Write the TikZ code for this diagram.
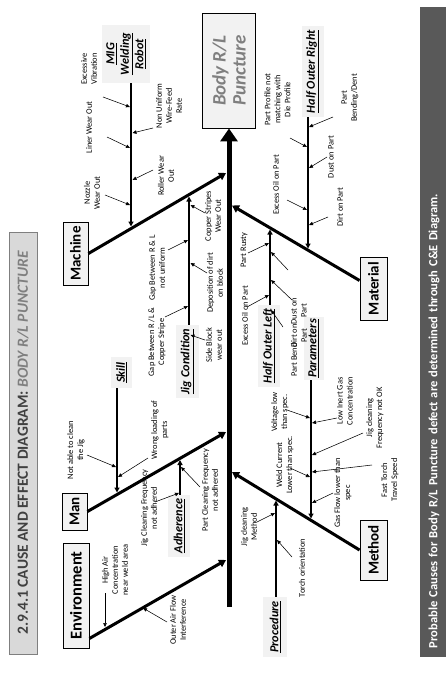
\documentclass[tikz,border=0pt]{standalone}
\usepackage{fontspec}
\setmainfont{Carlito}
\usetikzlibrary{arrows.meta, calc}
\definecolor{boxGrey}{HTML}{F2F2F2}
\definecolor{barGrey}{HTML}{D9D9D9}
\definecolor{capGrey}{HTML}{595959}
\definecolor{txtGrey}{HTML}{7F7F7F}
\definecolor{headGrey}{HTML}{404040}

\begin{document}
\begin{tikzpicture}[x=1pt, y=-1pt,
  cat/.style={draw, fill=boxGrey, line width=0.9pt, rotate=90, inner sep=1pt,
              font=\fontsize{15}{17}\selectfont\bfseries},
  sub/.style={fill=boxGrey, rotate=90, align=center, inner sep=2pt,
              font=\fontsize{12.3}{14.5}\selectfont\bfseries\itshape},
  cause/.style={rotate=90, align=center, inner sep=1pt,
                font=\fontsize{8.4}{10}\selectfont},
  spine/.style={line width=5pt, -{Triangle[length=13pt,width=17pt]}},
  bone/.style={line width=3pt, -{Triangle[length=7pt,width=8pt]}},
  rib/.style={line width=1.6pt, -{Triangle[length=5pt,width=5pt]}},
  hit/.style={line width=0.55pt, -{Triangle[length=4pt,width=3.5pt]}}]
  \useasboundingbox (0,0) rectangle (446,698);

  % title and caption bars
  \node[rotate=90, fill=barGrey, draw=txtGrey, minimum width=422pt,
        minimum height=28pt, inner sep=0pt, text=headGrey,
        font=\fontsize{15.5}{17}\selectfont\bfseries] (title) at (23,443)
        {2.9.4.1 CAUSE AND EFFECT DIAGRAM: {\itshape\color{txtGrey}BODY R/L PUNCTURE}};
  \node[rotate=90, fill=capGrey, minimum height=28pt, text width=632pt,
        inner sep=9pt, align=left, text=white,
        font=\fontsize{12.5}{14}\selectfont\bfseries] (caption) at (434,332)
        {Probable Causes for Body R/L Puncture defect are determined through C\&E Diagram.};

  % effect and spine
  \node[draw, fill=boxGrey, line width=0.9pt, rotate=90, minimum width=115pt,
        minimum height=53pt, align=center, text=txtGrey,
        font=\fontsize{19}{20}\selectfont\bfseries\itshape] (effect) at (229,70.5)
        {Body R/L\\Puncture};
  \coordinate (tail) at (229,607);
  \draw[spine] (tail) -- (effect.west);

  % categories
  \node[cat, minimum width=63pt, minimum height=25pt] (machine) at (75.5,253.5) {Machine};
  \node[cat, minimum width=37pt, minimum height=25pt] (man) at (74.5,511.5) {Man};
  \node[cat, minimum width=105pt, minimum height=26pt,
        font=\fontsize{16.5}{18}\selectfont\bfseries] (env) at (76,595.5) {Environment};
  \node[cat, minimum width=60pt, minimum height=27pt] (method) at (373.5,550) {Method};
  \node[cat, minimum width=63pt, minimum height=27pt] (material) at (373.5,288.5) {Material};

  \coordinate (machH) at (226,173);
  \coordinate (manH) at (226,432);
  \coordinate (envH) at (226,560);
  \coordinate (methH) at (232,472);
  \coordinate (matH) at (232,205.5);
  \draw[bone] (machine.south) -- (machH);
  \draw[bone] (man.south) -- (manH);
  \draw[bone] ([yshift=10pt]env.south west) -- (envH);
  \draw[bone] (method.north) -- (methH);
  \draw[bone] ([yshift=8pt]material.north) -- (matH);

  % sub causes
  \node[sub, minimum width=58pt, minimum height=48pt] (mig) at (126,54)
    {\underline{MIG}\\\underline{Welding}\\\underline{Robot}};
  \node[sub, minimum width=73pt, minimum height=23pt] (jig) at (187,361.5) {\underline{Jig Condition}};
  \node[sub, minimum width=31pt, minimum height=21pt] (skill) at (121.5,372.5) {\underline{Skill}};
  \node[sub, minimum width=62pt, minimum height=22pt] (adh) at (179,526) {\underline{Adherence}};
  \node[sub, minimum width=57pt, minimum height=20pt] (par) at (313.5,348.5) {\underline{Parameters}};
  \node[sub, minimum width=60pt, minimum height=24pt] (proc) at (275,627) {\underline{Procedure}};
  \node[sub, minimum width=82pt, minimum height=22pt] (hol) at (269,346) {\underline{Half Outer Left}};
  \node[sub, minimum width=91pt, minimum height=22pt] (hor) at (312.5,71.5) {\underline{Half Outer Right}};

  \coordinate (migH) at (131,226.5);
  \coordinate (jigH) at (189,196.5);
  \coordinate (skillH) at (117,492.5);
  \coordinate (adhH) at (180,460);
  \coordinate (parH) at (311,518.5);
  \coordinate (procH) at (276,500.5);
  \coordinate (holH) at (270,229.5);
  \coordinate (horH) at (308,248.5);
  \draw[rib] (mig.west -| migH) -- (migH);
  \draw[rib] (jig.east -| jigH) -- (jigH);
  \draw[rib] (skill.west -| skillH) -- (skillH);
  \draw[rib] (adh.east -| adhH) -- (adhH);
  \draw[rib] (par.west -| parH) -- (parH);
  \draw[rib] (proc.east -| procH) -- (procH);
  \draw[rib] (hol.east -| holH) -- (holH);
  \draw[rib] (hor.west -| horH) -- (horH);

  % machine
  \node[cause] (nozzle) at (92,193) {Nozzle\\Wear Out};
  \node[cause] (liner) at (89,127.5) {Liner Wear Out};
  \node[cause] (vibr) at (89,69) {Excessive\\Vibration};
  \node[cause] (roller) at (166,176) {Roller Wear\\Out};
  \node[cause] (feed) at (169,106) {Non Uniform\\Wire-Feed\\Rate};
  \coordinate (nzH) at (130,205);
  \coordinate (lnH) at (130,148);
  \coordinate (vbH) at (130,107);
  \coordinate (rlH) at (132.5,180);
  \coordinate (fdH) at (132.5,133);
  \draw[hit] ([shift={(13,2)}]nozzle.center) -- (nzH);
  \draw[hit] ([shift={(18,9.5)}]liner.center) -- (lnH);
  \draw[hit] ([shift={(14,28)}]vibr.center) -- (vbH);
  \draw[hit] ([shift={(-13,-6)}]roller.center) -- (rlH);
  \draw[hit] ([shift={(-16,22)}]feed.center) -- (fdH);

  \node[cause] (gapcs) at (157,342) {Gap Between R /L \&\\Copper Stripe};
  \node[cause] (gapnu) at (157,268) {Gap Between R \& L\\not uniform};
  \node[cause] (sideb) at (214,345) {Side Block\\wear out};
  \node[cause] (depo) at (215,283) {Deposition of dirt\\on block};
  \node[cause] (copper) at (213,216) {Copper Stripes\\Wear Out};
  \coordinate (gcH) at (188,306);
  \coordinate (gnH) at (188,240);
  \coordinate (sbH) at (190.5,335);
  \coordinate (dpH) at (190.5,263);
  \coordinate (cpH) at (190.5,205);
  \draw[hit] ([shift={(8,-25)}]gapcs.center) -- (gcH);
  \draw[hit] ([shift={(11,-18)}]gapnu.center) -- (gnH);
  \draw[hit] ([shift={(-9,-5)}]sideb.center) -- (sbH);
  \draw[hit] ([shift={(-8,-10)}]depo.center) -- (dpH);
  \draw[hit] ([shift={(-8,-3)}]copper.center) -- (cpH);

  % man
  \node[cause] (notable) at (76,450) {Not able to clean\\the Jig};
  \node[cause] (wrong) at (160,430) {Wrong loading of\\parts};
  \coordinate (naH) at (116,467);
  \coordinate (wrH) at (118,477);
  \draw[hit] ([shift={(11,5)}]notable.center) -- (naH);
  \draw[hit] ([shift={(-12,28)}]wrong.center) -- (wrH);

  \node[cause] (jigfreq) at (149,508) {Jig Cleaning Frequency\\not adhered};
  \node[cause] (partfreq) at (210,490) {Part Cleaning Frequency\\not adhered};
  \coordinate (jfH) at (179,493);
  \coordinate (pfH) at (181,467);
  \draw[hit] ([shift={(6,-6)}]jigfreq.center) -- (jfH);
  \draw[hit] ([shift={(-10,-3)}]partfreq.center) -- (pfH);

  % environment
  \node[cause] (highair) at (115,570) {High Air\\Concentration\\near weld area};
  \node[cause] (outer) at (178,620) {Outer Air Flow\\Interference};
  \coordinate (haH) at (105,627);
  \coordinate (ofH) at (143,608);
  \draw[hit] ([shift={(-10,23)}]highair.center) -- (haH);
  \draw[hit] ([shift={(-11,2)}]outer.center) -- (ofH);

  % method
  \node[cause] (volt) at (280,412) {Voltage low\\than spec.};
  \node[cause] (weld) at (285,465) {Weld Current\\Lower than spec.};
  \node[cause] (inert) at (345,401) {Low Inert Gas\\Concentration};
  \node[cause] (jigok) at (375,418) {Jig cleaning\\Frequency not OK};
  \node[cause] (torch) at (390,480) {Fast Torch\\Travel Speed};
  \node[cause] (gasflow) at (343,493) {Gas Flow lower than\\spec};
  \coordinate (vlH) at (310,418);
  \coordinate (wcH) at (310,477);
  \coordinate (igH) at (312,423);
  \coordinate (okH) at (312,455);
  \coordinate (tsH) at (312,472);
  \coordinate (gfH) at (312,503);
  \draw[hit] ([shift={(7,-2)}]volt.center) -- (vlH);
  \draw[hit] ([shift={(5,3)}]weld.center) -- (wcH);
  \draw[hit] ([shift={(-8,17)}]inert.center) -- (igH);
  \draw[hit] ([shift={(-12,15)}]jigok.center) -- (okH);
  \draw[hit] ([shift={(-18,-15)}]torch.center) -- (tsH);
  \draw[hit] ([shift={(-10,0)}]gasflow.center) -- (gfH);

  \node[cause] (jigmeth) at (249,527) {Jig cleaning\\Method};
  \node[cause] (orient) at (302,568) {Torch orientation};
  \coordinate (jmH) at (275,513);
  \coordinate (toH) at (277,540);
  \draw[hit] ([shift={(8,-5)}]jigmeth.center) -- (jmH);
  \draw[hit] ([shift={(-10,-11)}]orient.center) -- (toH);

  % material
  \node[cause] (oilL) at (245,316) {Excess Oil on Part};
  \node[cause] (rusty) at (244,250) {Part Rusty};
  \node[cause] (bend) at (294,360) {Part Bend};
  \node[cause] (dirtL) at (299,336) {Dirt on\\Part};
  \node[cause] (dustL) at (299,311) {Dust on\\Part};
  \coordinate (olH) at (269,295);
  \coordinate (ruH) at (269,243);
  \coordinate (pbH) at (271,310);
  \coordinate (dlH) at (271,280);
  \coordinate (duH) at (271,252);
  \draw[hit] ([shift={(2,-9)}]oilL.center) -- (olH);
  \draw[hit] ([shift={(4,3)}]rusty.center) -- (ruH);
  \draw[hit] ([shift={(-11,-33)}]bend.center) -- (pbH);
  \draw[hit] ([shift={(-7,-36)}]dirtL.center) -- (dlH);
  \draw[hit] ([shift={(-11,-41)}]dustL.center) -- (duH);

  \node[cause] (profile) at (277.5,99.5) {Part Profile not\\matching with\\Die Profile};
  \node[cause] (oilR) at (276,185) {Excess Oil on Part};
  \node[cause] (bendR) at (350,98) {Part\\Bending/Dent};
  \node[cause] (dustR) at (331,157) {Dust on Part};
  \node[cause] (dirtR) at (340,207) {Dirt on Part};
  \coordinate (ppH) at (307,147);
  \coordinate (orH) at (307,210);
  \coordinate (bdH) at (309,127);
  \coordinate (dsH) at (309,168);
  \coordinate (drH) at (309,225);
  \draw[hit] ([shift={(12.5,38.5)}]profile.center) -- (ppH);
  \draw[hit] ([shift={(11,15)}]oilR.center) -- (orH);
  \draw[hit] ([shift={(-17,19)}]bendR.center) -- (bdH);
  \draw[hit] ([shift={(-4,0)}]dustR.center) -- (dsH);
  \draw[hit] ([shift={(-12,10)}]dirtR.center) -- (drH);
\end{tikzpicture}
\end{document}
